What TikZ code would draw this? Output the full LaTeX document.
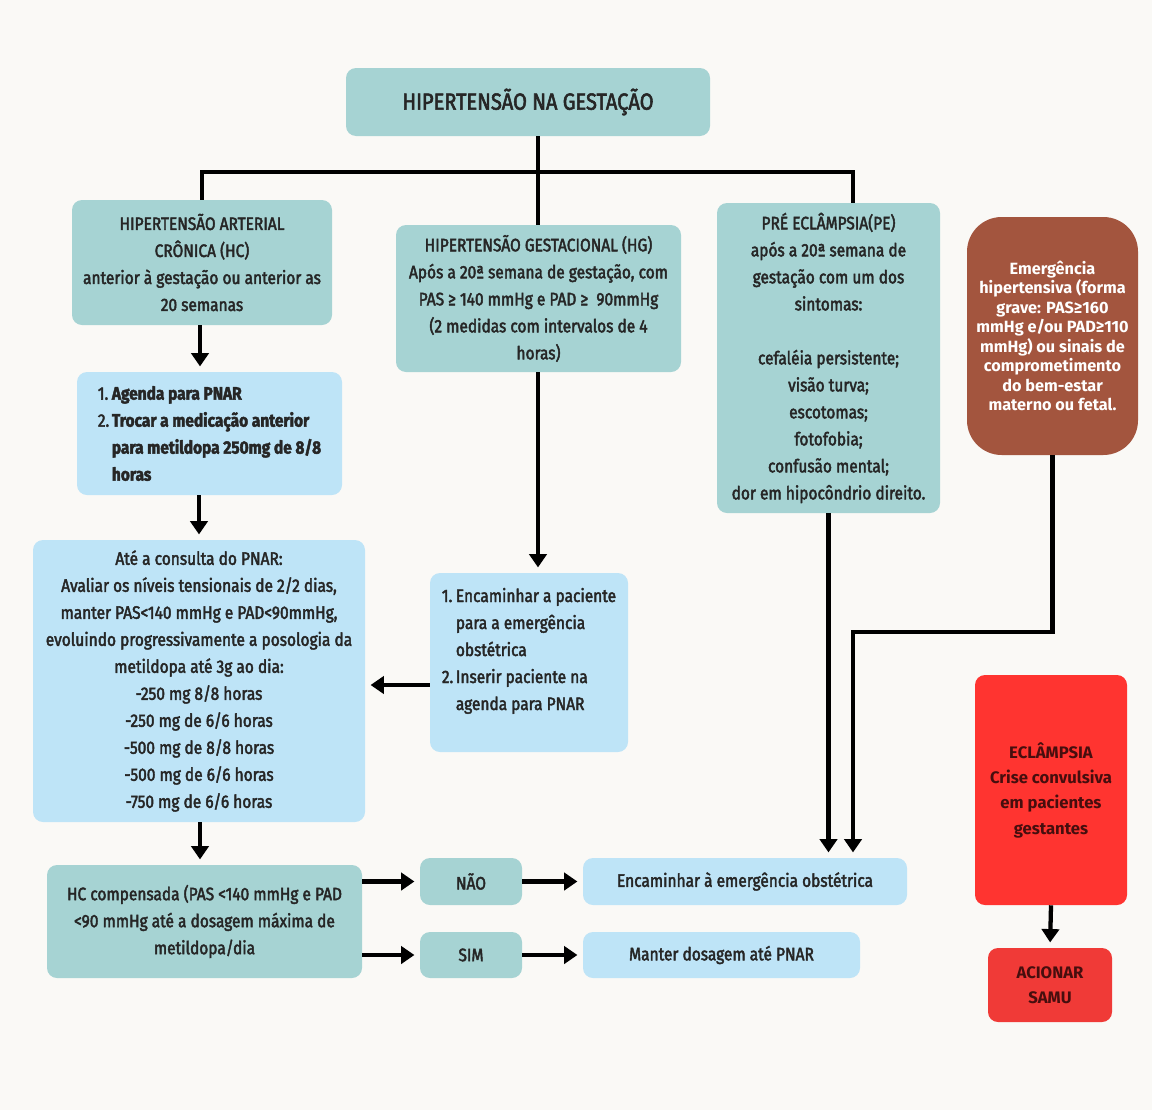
\documentclass[tikz,border=0pt]{standalone}
\usepackage{fontspec}
\setmainfont{Fira Sans}[FakeStretch=0.86, FakeBold=2.4]
\newfontfamily\widefont{Fira Sans}
\usetikzlibrary{arrows.meta}
\definecolor{bg}{RGB}{250,249,246}
\definecolor{tealbox}{RGB}{166,211,211}
\definecolor{bluebox}{RGB}{190,228,247}
\definecolor{brownbox}{RGB}{163,85,62}
\definecolor{redbox}{RGB}{255,52,48}
\definecolor{redbox2}{RGB}{240,58,55}
\definecolor{txt}{RGB}{38,38,38}
\definecolor{redtxt}{RGB}{70,14,14}
\newcommand\ntxt{\fontsize{13.5}{20.25}\selectfont}
\begin{document}
\begin{tikzpicture}[x=0.75pt,y=-0.75pt,
  box/.style={rounded corners=7.5pt, inner sep=0pt, align=center, text=txt, font=\ntxt},
  tealb/.style={box, fill=tealbox},
  blueb/.style={box, fill=bluebox},
  conn/.style={line width=3.2pt, draw=black},
  arr/.style={conn, -{Triangle[width=13pt,length=10pt]}, shorten >=4pt},
]
\fill[bg] (0,0) rectangle (1152,1110);
\useasboundingbox (0,0) rectangle (1152,1110);

% boxes
\node[tealb, minimum width=273pt, minimum height=51pt, font=\fontsize{17.5}{20}\selectfont] (title) at (528,102) {HIPERTENSÃO NA GESTAÇÃO};

\node[tealb, minimum width=195pt, minimum height=93.75pt] (hc) at (202,262.5)
  {HIPERTENSÃO ARTERIAL\\ CRÔNICA (HC)\\ anterior à gestação ou anterior as\\ 20 semanas};

\node[tealb, minimum width=213.75pt, minimum height=110.25pt] (hg) at (538.5,298.5)
  {HIPERTENSÃO GESTACIONAL (HG)\\ Após a 20ª semana de gestação, com\\ PAS ≥ 140 mmHg e PAD ≥ \ 90mmHg\\ (2 medidas com intervalos de 4\\ horas)};

\node[tealb, minimum width=167.25pt, minimum height=232.5pt] (pe) at (828.5,358)
  {PRÉ ECLÂMPSIA(PE)\\ após a 20ª semana de\\ gestação com um dos\\ sintomas:\\[20.25pt] cefaléia persistente;\\ visão turva;\\ escotomas;\\ fotofobia;\\ confusão mental;\\ dor em hipocôndrio direito.};

\node[box, fill=brownbox, rounded corners=26pt, minimum width=128.25pt, minimum height=178.5pt, text=white, font=\widefont\bfseries\fontsize{12.2}{14.6}\selectfont] (em) at (1052.5,336)
  {Emergência\\ hipertensiva (forma\\ grave: PAS≥160\\ mmHg e/ou PAD≥110\\ mmHg) ou sinais de\\ comprometimento\\ do bem-estar\\ materno ou fetal.};

\node[blueb, minimum width=198.75pt, minimum height=92.25pt, align=left, font=\ntxt\bfseries] (ag) at (209.5,433.5)
  {\makebox[10.5pt][l]{\mdseries 1.}Agenda para PNAR\\
   \makebox[10.5pt][l]{\mdseries 2.}Trocar a medicação anterior\\
   \hspace*{10.5pt}para metildopa 250mg de 8/8\\
   \hspace*{10.5pt}horas};

\node[blueb, minimum width=249pt, minimum height=211.5pt] (ate) at (199,681)
  {Até a consulta do PNAR:\\ Avaliar os níveis tensionais de 2/2 dias,\\ manter PAS<140 mmHg e PAD<90mmHg,\\ evoluindo progressivamente a posologia da\\ metildopa até 3g ao dia:\\ -250 mg 8/8 horas\\ -250 mg de 6/6 horas\\ -500 mg de 8/8 horas\\ -500 mg de 6/6 horas\\ -750 mg de 6/6 horas};

\node[blueb, minimum width=148.5pt, minimum height=134.25pt, align=left] (enc) at (529,662.5)
  {\makebox[10.5pt][l]{1.}Encaminhar a paciente\\
   \hspace*{10.5pt}para a emergência\\
   \hspace*{10.5pt}obstétrica\\
   \makebox[10.5pt][l]{2.}Inserir paciente na\\
   \hspace*{10.5pt}agenda para PNAR\\ \mbox{}};

\node[tealb, minimum width=236.25pt, minimum height=84.75pt] (hcc) at (204.5,921.5)
  {HC compensada (PAS <140 mmHg e PAD\\ <90 mmHg até a dosagem máxima de\\ metildopa/dia};

\node[tealb, minimum width=76.5pt, minimum height=35.25pt] (nao) at (471,881.5) {NÃO};
\node[tealb, minimum width=76.5pt, minimum height=34.5pt] (sim) at (471,955) {SIM};
\node[blueb, minimum width=243pt, minimum height=35.25pt] (ence) at (745,881.5) {Encaminhar à emergência obstétrica};
\node[blueb, minimum width=207.75pt, minimum height=34.5pt] (man) at (721.5,955) {Manter dosagem até PNAR};

\node[box, fill=redbox, minimum width=114pt, minimum height=172.5pt, text=redtxt, font=\widefont\bfseries\fontsize{12.5}{19}\selectfont] (ecl) at (1051,790)
  {ECLÂMPSIA\\ Crise convulsiva\\ em pacientes\\ gestantes};
\node[box, fill=redbox2, minimum width=93pt, minimum height=55.5pt, text=redtxt, font=\widefont\bfseries\fontsize{12.5}{19}\selectfont] (sam) at (1050,985)
  {ACIONAR\\ SAMU};

% connectors
\coordinate (bar) at (538,172);
\coordinate (bend) at (853,632);
\draw[conn] (title.south -| bar) -- (bar);
\draw[conn] (hc.north) -- (hc.north |- bar) -- ([xshift=18.4pt]pe.north |- bar) -- ([xshift=18.4pt]pe.north);
\draw[conn] (bar) -- (hg.north -| bar);

\draw[arr] (hc.south -| 200,0) -- (ag.north -| 200,0);
\draw[arr] (ag.south -| ate.south) -- (ate.north);
\draw[arr] (hg.south -| bar) -- (enc.north -| bar);
\draw[arr] (enc.west |- 0,685) -- (ate.east |- 0,685);
\draw[arr] (ate.south -| 200,0) -- (hcc.north -| 200,0);
\draw[arr] (pe.south) -- (pe.south |- ence.north);
\draw[arr] (em.south) |- (bend) -- (bend |- ence.north);
\draw[arr] (hcc.east |- nao) -- (nao.west);
\draw[arr] (hcc.east |- sim) -- (sim.west);
\draw[arr] (nao.east) -- (ence.west);
\draw[arr] (sim.east) -- (man.west);
\draw[arr] (ecl.south) -- (sam.north);
\end{tikzpicture}
\end{document}
